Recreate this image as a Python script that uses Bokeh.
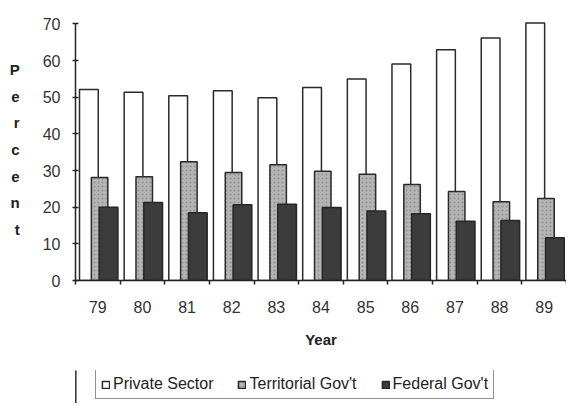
from bokeh.plotting import figure
from bokeh.models import FixedTicker, Legend, LegendItem, Range1d
from bokeh.layouts import column
from bokeh.embed import file_html
from bokeh.resources import INLINE

years = ["79", "80", "81", "82", "83", "84", "85", "86", "87", "88", "89"]
private_sector = [52.1, 51.4, 50.4, 51.8, 49.9, 52.7, 55.0, 59.1, 63.0, 66.2, 70.3]
territorial_govt = [28.1, 28.3, 32.4, 29.5, 31.6, 29.8, 29.0, 26.2, 24.3, 21.5, 22.4]
federal_govt = [20.0, 21.3, 18.5, 20.7, 20.8, 19.9, 19.0, 18.2, 16.2, 16.4, 11.7]
series_names = ["Private Sector", "Territorial Gov't", "Federal Gov't"]
y_ticks = [0, 10, 20, 30, 40, 50, 60, 70]
y_title = "Percent"

FONT = "Liberation Sans"
n = len(years)
xs = list(range(n))

styles = [
    dict(fill_color="white", line_color="#2a2a2a", line_width=1.5),
    dict(fill_color="#b4b4b4", line_color="#2a2a2a", line_width=1.5,
         hatch_pattern="dot", hatch_color="#6e6e6e", hatch_scale=4, hatch_alpha=0.5),
    dict(fill_color="#3c3c3c", line_color="#262626", line_width=1.5),
]

p = figure(frame_width=491, frame_height=262,
           output_backend="svg", toolbar_location=None,
           x_range=Range1d(-0.5, n - 0.5), y_range=Range1d(0, 71.5),
           min_border_left=75, min_border_right=0, min_border_top=18,
           min_border_bottom=90)
p.outline_line_color = None
p.grid.visible = False
p.background_fill_color = "white"

p.vbar(x=[x - 0.20 for x in xs], top=private_sector, width=0.42, **styles[0])
p.vbar(x=[x + 0.04 for x in xs], top=territorial_govt, width=0.37, **styles[1])
p.vbar(x=[x + 0.24 for x in xs], top=federal_govt, width=0.42, **styles[2])

# x axis
p.xaxis.ticker = FixedTicker(ticks=xs, minor_ticks=[x - 0.5 for x in xs] + [n - 0.5])
p.xaxis.major_label_overrides = {x: years[x] for x in xs}
p.xaxis.major_tick_in = 0
p.xaxis.major_tick_out = 0
p.xaxis.minor_tick_in = 0
p.xaxis.minor_tick_out = 4
p.xaxis.minor_tick_line_color = "#222"
p.xaxis.minor_tick_line_width = 1.5
p.xaxis.axis_line_color = "#222"
p.xaxis.axis_line_width = 1.5
p.xaxis.major_label_text_font = FONT
p.xaxis.major_label_text_font_size = "16px"
p.xaxis.major_label_text_color = "#333"
p.xaxis.major_label_standoff = 16
p.xaxis.axis_label = "Year"
p.xaxis.axis_label_text_font = FONT
p.xaxis.axis_label_text_font_style = "bold"
p.xaxis.axis_label_text_font_size = "15px"
p.xaxis.axis_label_text_color = "#222"
p.xaxis.axis_label_standoff = 15

# y axis
p.yaxis.ticker = FixedTicker(ticks=y_ticks, minor_ticks=[])
p.yaxis.bounds = (0, 70)
p.yaxis.major_tick_in = 3
p.yaxis.major_tick_out = 3
p.yaxis.major_tick_line_color = "#222"
p.yaxis.major_tick_line_width = 1.5
p.yaxis.axis_line_color = "#222"
p.yaxis.axis_line_width = 1.5
p.yaxis.major_label_text_font = FONT
p.yaxis.major_label_text_font_size = "16px"
p.yaxis.major_label_text_color = "#333"
p.yaxis.major_label_standoff = 12
p.yaxis.axis_label = "\n".join(y_title)
p.yaxis.axis_label_orientation = "horizontal"
p.yaxis.axis_label_text_font = FONT
p.yaxis.axis_label_text_font_style = "bold"
p.yaxis.axis_label_text_font_size = "15px"
p.yaxis.axis_label_text_color = "#222"
p.yaxis.axis_label_text_line_height = 1.57
p.yaxis.axis_label_text_align = "center"
p.yaxis.axis_label_standoff = 20

# legend strip under the chart: same left border as the chart, no axes;
# proxy renderers sit outside its visible range
lg = figure(frame_width=491, frame_height=33, output_backend="svg",
            toolbar_location=None, x_axis_location=None, y_axis_location=None,
            x_range=Range1d(0, 1), y_range=Range1d(0, 1),
            min_border_left=75, min_border_right=0, min_border_top=0,
            min_border_bottom=0)
lg.grid.visible = False
lg.outline_line_color = None
lg_renderers = [lg.vbar(x=[-5], top=[1], width=0.5, **s) for s in styles]
legend = Legend(items=[LegendItem(label=name, renderers=[r])
                       for name, r in zip(series_names, lg_renderers)],
                orientation="horizontal", location=(20, 4),
                border_line_color="#222", border_line_width=1.5,
                label_text_font=FONT, label_text_font_size="16px",
                label_text_color="#222", glyph_width=9, glyph_height=9,
                label_standoff=3, spacing=24, padding=5, margin=0,
                label_height=16)
lg.add_layout(legend)

layout = column(p, lg, spacing=0)
open("out.html", "w").write(file_html(layout, INLINE))
